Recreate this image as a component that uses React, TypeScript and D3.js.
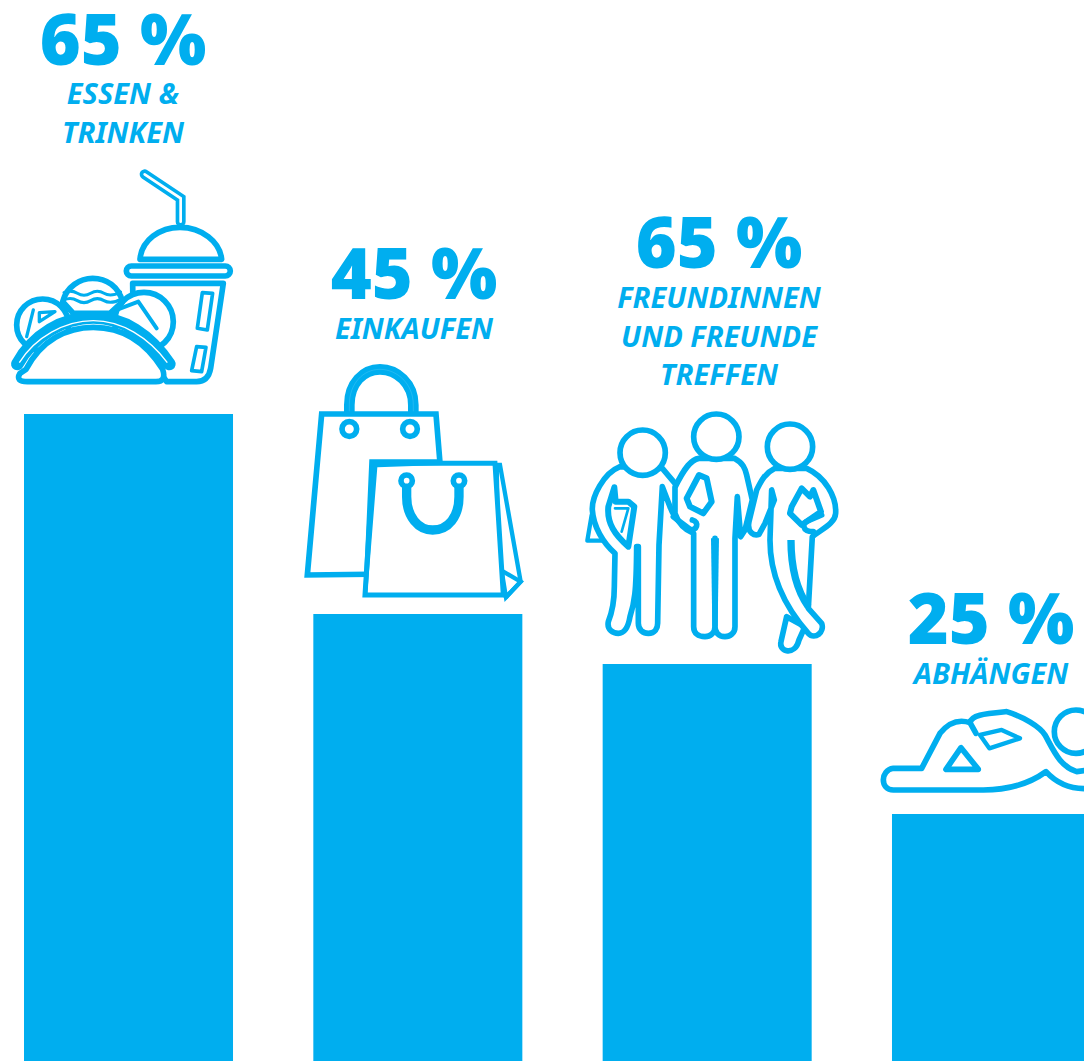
import React from 'react';
import * as d3 from 'd3';

const categories = ['essen', 'einkaufen', 'freunde', 'abhaengen'];
// bar heights as drawn; the third bar is drawn shorter than its printed label
const barValues = [65, 45, 40, 25];
const percentLabels = ['65 %', '45 %', '65 %', '25 %'];
const nameLines = [
  ['ESSEN &', 'TRINKEN'],
  ['EINKAUFEN'],
  ['FREUNDINNEN', 'UND FREUNDE', 'TREFFEN'],
  ['ABHÄNGEN'],
];

const WIDTH = 1084;
const HEIGHT = 1061;
const BLUE = '#00aeef';

// where each text block sits
const textCenters = [123, 414, 719, 991];
const percentBaselines = [65, 299, 268, 644];
const nameBaselines = [104, 339, 308, 684];
const LINE_STEP = 38.5;

const x = d3.scaleBand<string>().domain(categories).range([24, 1101]).paddingInner(0.2776).paddingOuter(0);
const y = d3.scaleLinear().domain([25, 65]).range([814, 414]);

const outline = { fill: '#fff', stroke: BLUE, strokeWidth: 17, strokeLinejoin: 'round' as const, strokeLinecap: 'round' as const };
const line = { ...outline, fill: 'none' };

// icons are drawn in a 3x grid, then scaled down
const FoodIcon = () => (
  <g transform="scale(0.3333)">
    <path d="M434,523 L542,595 L542,665" fill="none" stroke={BLUE} strokeWidth={30} strokeLinecap="round" />
    <path d="M434,523 L542,595 L542,665" fill="none" stroke="#fff" strokeWidth={8} strokeLinecap="round" />
    <path d="M420,778 C425,720 480,682 540,682 C605,682 660,725 665,778 Z" {...outline} />
    <rect x={379} y={798} width={312} height={30} rx={15} {...outline} />
    <path d="M398,850 H670 L632,1105 Q625,1145 590,1145 H500 L400,1000 Z" {...outline} />
    <path d="M607,878 L638,880 L622,990 L592,985 Z" {...outline} strokeWidth={11} />
    <path d="M590,1040 L618,1042 L605,1115 L575,1112 Z" {...outline} strokeWidth={11} />
    <circle cx={128} cy={975} r={78} {...outline} />
    <circle cx={432} cy={965} r={88} {...outline} />
    <path d="M100,930 L80,1010 M118,938 L165,935 L118,965 Z" {...line} strokeWidth={10} />
    <path d="M350,930 L415,905 L470,985" {...line} strokeWidth={12} />
    <path d="M188,905 C200,860 240,835 278,835 C320,835 355,860 368,905 L330,940 H220 Z" {...outline} />
    <path d="M192,878 Q212,868 232,880 T272,880 T312,880 T362,876" {...line} strokeWidth={9} />
    <path d="M192,900 Q212,890 232,902 T272,902 T312,902 T362,898" {...line} strokeWidth={9} />
    <path d="M52,1092 C100,1005 190,952 280,952 C370,952 450,1005 508,1092" fill="none" stroke={BLUE} strokeWidth={38} strokeLinecap="round" />
    <path d="M58,1088 C105,1012 195,962 280,962 C365,962 445,1012 502,1088" fill="none" stroke="#fff" strokeWidth={4} />
    <path d="M78,1108 C125,1020 200,982 280,982 C370,982 440,1030 488,1108 Q500,1145 468,1145 H82 Q45,1145 60,1120 Z" {...outline} />
  </g>
);

const BagsIcon = () => (
  <g transform="translate(290,350) scale(0.3333)">
    <path d="M178,190 V165 C178,100 220,58 270,58 C320,58 370,100 370,165 V190" fill="none" stroke={BLUE} strokeWidth={32} />
    <path d="M178,190 V165 C178,100 220,58 270,58 C320,58 370,100 370,165 V190" fill="none" stroke="#fff" strokeWidth={1} opacity={0.4} />
    <path d="M455,400 L438,192 H95 L52,675 L300,672 Z" {...outline} strokeLinejoin="miter" />
    <circle cx={178} cy={237} r={22} {...outline} />
    <circle cx={360} cy={237} r={22} {...outline} />
    <path d="M620,345 H630 L692,695 L648,742 L625,600 Z" {...outline} strokeLinejoin="miter" strokeWidth={13} />
    <path d="M640,665 L692,695 L648,742" {...line} strokeLinejoin="miter" strokeWidth={13} />
    <path d="M250,340 H615 L640,735 H225 Z" {...outline} strokeLinejoin="miter" strokeWidth={15} />
    <path d="M238,328 H455 V345 L262,352 L232,730 L220,735 Z" fill={BLUE} />
    <path d="M350,392 V440 C350,500 385,540 428,540 C475,540 507,500 507,440 V392" fill="none" stroke={BLUE} strokeWidth={28} />
    <circle cx={350} cy={392} r={17} {...outline} />
    <circle cx={507} cy={392} r={17} {...outline} />
  </g>
);

const PeopleIcon = () => (
  <g transform="translate(575,400) scale(0.3333)">
    <path d="M50,345 L37,422 H100" {...line} strokeWidth={13} />
    <path d="M135,200 C85,220 50,290 52,330 C55,380 85,430 120,460 L118,560 C118,600 110,640 100,665 C95,690 115,700 130,700 C150,700 160,680 165,650 C178,610 184,580 185,440 L190,440 V670 C190,690 205,700 220,700 C240,700 248,685 248,670 L252,435 L262,260 L285,320 C300,360 325,380 350,385 L300,250 L262,205 Z" {...outline} />
    <path d="M118,262 L100,320 C95,370 120,405 160,440 L178,320 L160,305 H122 Z" {...line} strokeWidth={18} />
    <path d="M120,325 H160 L140,395" {...outline} strokeWidth={8} />
    <path d="M300,262 C330,200 350,178 372,175 H478 C505,190 510,205 515,225 L532,300 L510,390 L497,410 L487,290 L480,415 V680 C480,700 465,710 450,710 C430,710 420,695 420,680 V415 V680 C420,700 405,710 390,710 C370,710 356,700 356,680 V400 C330,390 310,370 300,340 Z" {...outline} />
    <path d="M372,225 L335,295 L345,320 L385,340 L410,305 L395,235 Z" {...line} strokeWidth={18} />
    <path d="M408,415 H432 L428,680 H412 Z" fill={BLUE} />
    <path d="M352,360 C375,365 365,395 345,388 L295,350" {...line} />
    <path d="M635,650 L618,725 C610,755 660,770 672,720 L690,680 Z" {...outline} />
    <path d="M600,205 C570,220 560,240 545,270 L522,365 C515,400 540,408 552,403 L570,370 L598,300 L590,270 L585,420 C585,520 620,610 700,700 C720,722 750,695 740,670 L700,625 L712,410 C745,385 780,370 782,340 C785,290 750,230 695,205 Z" {...outline} />
    <path d="M680,265 L650,320 L645,340 L680,375 L738,335 L715,270 L705,290 Z" {...line} strokeWidth={18} />
    <path d="M715,395 C680,395 680,368 700,362 L740,345" {...line} />
    <path d="M648,420 C648,500 665,570 700,620" fill="none" stroke={BLUE} strokeWidth={22} />
    <circle cx={203} cy={158} r={68} {...outline} />
    <circle cx={424} cy={110} r={68} {...outline} />
    <circle cx={645} cy={140} r={68} {...outline} />
  </g>
);

const LoungeIcon = () => (
  <g transform="translate(870,570) scale(0.3333)">
    <path d="M300,458 C260,445 230,465 210,490 L155,595 H70 C30,600 30,660 70,660 H340 C420,660 480,640 528,605 C560,640 600,660 660,655 V600 L620,605 C570,590 550,540 525,495 C510,470 460,440 410,425 C340,432 305,435 300,458 Z" {...outline} />
    <path d="M300,458 L318,490" {...line} />
    <path d="M273,533 L228,598 H325 Z" {...outline} />
    <path d="M330,495 L395,480 L450,505 L358,535 Z" {...outline} strokeWidth={13} />
    <circle cx={618} cy={485} r={65} {...outline} />
  </g>
);

const icons = [FoodIcon, BagsIcon, PeopleIcon, LoungeIcon];

export default function App() {
  return (
    <svg
      width={WIDTH}
      height={HEIGHT}
      viewBox={`0 0 ${WIDTH} ${HEIGHT}`}
      style={{ position: 'absolute', left: 0, top: 0, display: 'block', background: '#fff' }}
    >
      {categories.map((c, i) => {
        const Icon = icons[i];
        return (
          <g key={c}>
            <rect x={x(c)} y={y(barValues[i])} width={x.bandwidth()} height={HEIGHT - y(barValues[i])} fill={BLUE} />
            <Icon />
            <text
              x={textCenters[i]}
              y={percentBaselines[i]}
              textAnchor="middle"
              fill={BLUE}
              fontFamily="'Noto Sans', sans-serif"
              fontWeight={900}
              fontSize={70}
            >
              {percentLabels[i]}
            </text>
            {nameLines[i].map((t, j) => (
              <text
                key={t}
                x={textCenters[i]}
                y={nameBaselines[i] + j * LINE_STEP}
                textAnchor="middle"
                fill={BLUE}
                fontFamily="'Noto Sans', sans-serif"
                fontWeight={700}
                fontStyle="italic"
                fontSize={29}
              >
                {t}
              </text>
            ))}
          </g>
        );
      })}
    </svg>
  );
}
